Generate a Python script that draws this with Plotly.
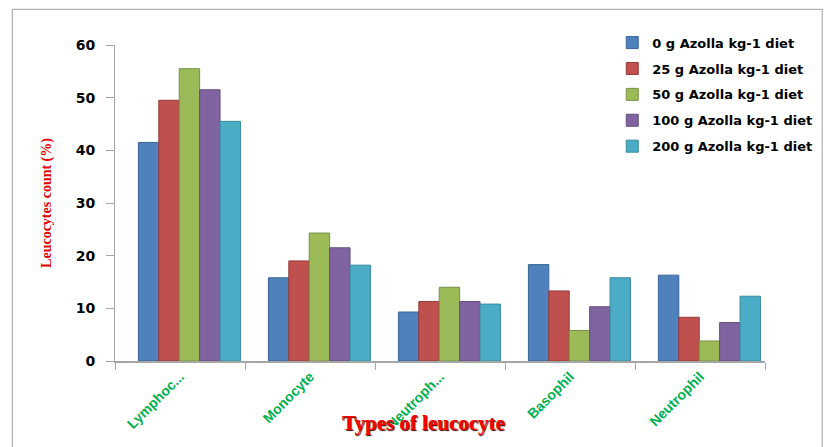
import plotly.graph_objects as go

categories = ["Lymphoc...", "Monocyte", "Neutroph...", "Basophil", "Neutrophil"]
series_names = [
    "0 g Azolla kg-1 diet",
    "25 g Azolla kg-1 diet",
    "50 g Azolla kg-1 diet",
    "100 g Azolla kg-1 diet",
    "200 g Azolla kg-1 diet",
]
diet_0 = [41.5, 15.8, 9.3, 18.3, 16.3]
diet_25 = [49.5, 19.0, 11.3, 13.3, 8.3]
diet_50 = [55.5, 24.3, 14.0, 5.8, 3.8]
diet_100 = [51.5, 21.5, 11.3, 10.3, 7.3]
diet_200 = [45.5, 18.2, 10.8, 15.8, 12.3]
y_ticks = [0, 10, 20, 30, 40, 50, 60]

colors = ["#4F81BD", "#C0504D", "#9BBB59", "#8064A2", "#4BACC6"]
edges = ["#3A6496", "#953B39", "#779146", "#634D7E", "#3A8A9F"]

# each bar is placed explicitly so the cluster sits a little right of the category centre
bar_w = 0.157
group_start = -0.32

fig = go.Figure()
for i, (name, vals, c, e) in enumerate(zip(series_names, [diet_0, diet_25, diet_50, diet_100, diet_200], colors, edges)):
    fig.add_trace(go.Bar(
        x=categories, y=vals, name=name, legendgroup=f"g{i}",
        width=bar_w, offset=group_start + i * bar_w,
        marker=dict(color=c, line=dict(color=e, width=1)),
    ))

fig.update_layout(
    width=838, height=447,
    margin=dict(l=115, r=73, t=45, b=86),
    paper_bgcolor="white", plot_bgcolor="white",
    barmode="overlay",
    font=dict(family="Liberation Sans", color="black"),
    legend=dict(
        x=0.765, y=1.055, xanchor="left", yanchor="top",
        font=dict(family="DejaVu Sans", size=13, color="black", weight="bold"),
        tracegroupgap=6, itemwidth=30, bgcolor="rgba(0,0,0,0)",
    ),
    xaxis=dict(
        showline=True, linecolor="#A6A6A6", linewidth=2,
        ticks="outside", tickson="boundaries", ticklen=7, tickcolor="#A6A6A6",
        tickangle=-45,
        tickfont=dict(family="Liberation Sans", size=14, color="#00B050", weight="bold"),
        showgrid=False,
    ),
    yaxis=dict(
        range=[0, 60], tickvals=y_ticks,
        showline=True, linecolor="#A6A6A6", linewidth=1,
        ticks="outside", ticklen=8, tickcolor="#A6A6A6", ticklabelstandoff=8,
        tickfont=dict(family="DejaVu Sans", size=14, color="black", weight="bold"),
        showgrid=False, zeroline=False,
        title=dict(
            text="Leucocytes count (%)",
            font=dict(family="Liberation Serif", size=14, color="#E00000", weight="bold"),
            standoff=20,
        ),
    ),
    shapes=[dict(
        type="rect", xref="paper", yref="paper",
        x0=-0.158, x1=1.088, y0=-0.35, y1=1.113,
        line=dict(color="#A0A0A0", width=1), fillcolor="rgba(0,0,0,0)", layer="below",
    )],
    annotations=[
        dict(
            text="Types of leucocyte", xref="paper", yref="paper",
            x=0.475, y=-0.197, xanchor="center", yanchor="middle", showarrow=False,
            font=dict(family="Liberation Serif", size=21, color="#FF0000", weight="bold",
                      shadow="1px 1px 1px #300000"),
        ),
    ],
)

fig.write_html("out.html")
